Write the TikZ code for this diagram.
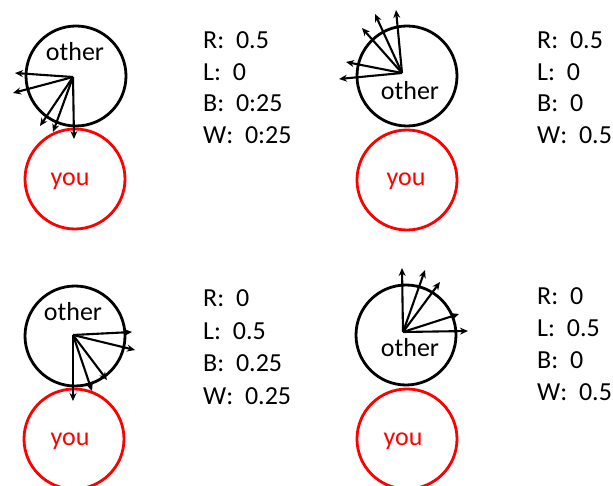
\documentclass[tikz,border=0pt]{standalone}
\usepackage{fontspec}
\setmainfont{Carlito}
\usepackage{tikz}
\usetikzlibrary{arrows.meta}
\definecolor{youred}{HTML}{FF0000}
\tikzset{
  ring/.style={circle, draw, line width=2.8pt, minimum size=100pt, inner sep=0pt},
  dirarrow/.style={-{Stealth[length=8pt,width=7pt]}, line width=2.1pt},
  lbl/.style={font=\fontsize{26}{31}\selectfont, inner sep=0pt},
  prob/.style={anchor=west, font=\fontsize{26}{31}\selectfont, inner sep=0pt},
}

\begin{document}
\begin{tikzpicture}[x=1pt,y=-1pt]
    \useasboundingbox (0,0) rectangle (613,486);

    % Top left: other looks away to the left and down
    \node[ring] (other1) at (76,76) {};
    \node[ring, youred] (you1) at (75,179) {};
    \node[lbl] (othertxt1) at (75,52) {other};
    \node[lbl, youred] (youtxt1) at (70,181) {you};
    \coordinate (o1) at (73,77);
    \foreach \x/\y [count=\i] in {15/73, 13/93, 40/126, 53/132, 74/139} {
        \coordinate (a1-\i) at (\x,\y);
        \draw[dirarrow] (o1) -- (a1-\i);
    }
    \foreach \t [count=\i] in {R:~~0.5, L:~~0, B:~~0:25, W:~~0:25}
        \node[prob] (p1-\i) at (203,{40+31.7*(\i-1)}) {\t};

    % Top right: other looks away to the left and up
    \node[ring] (other2) at (407,76) {};
    \node[ring, youred] (you2) at (407,180) {};
    \node[lbl] (othertxt2) at (410,91) {other};
    \node[lbl, youred] (youtxt2) at (406,181) {you};
    \coordinate (o2) at (402,73);
    \foreach \x/\y [count=\i] in {339/79, 346/62, 362/28, 375/14, 396/10} {
        \coordinate (a2-\i) at (\x,\y);
        \draw[dirarrow] (o2) -- (a2-\i);
    }
    \foreach \t [count=\i] in {R:~~0.5, L:~~0, B:~~0, W:~~0.5}
        \node[prob] (p2-\i) at (537,{40+31.7*(\i-1)}) {\t};

    % Bottom left: other looks to the right and down
    \node[ring] (other3) at (75,336) {};
    \node[ring, youred] (you3) at (74,439) {};
    \node[lbl] (othertxt3) at (73,312) {other};
    \node[lbl, youred] (youtxt3) at (70,441) {you};
    \coordinate (o3) at (73,335);
    \foreach \x/\y [count=\i] in {132/332, 135/350, 107/380, 92/391, 73/401} {
        \coordinate (a3-\i) at (\x,\y);
        \draw[dirarrow] (o3) -- (a3-\i);
    }
    \foreach \t [count=\i] in {R:~~0, L:~~0.5, B:~~0.25, W:~~0.25}
        \node[prob] (p3-\i) at (203,{298+32.7*(\i-1)}) {\t};

    % Bottom right: other looks to the right and up
    \node[ring] (other4) at (406,335) {};
    \node[ring, youred] (you4) at (407,439) {};
    \node[lbl] (othertxt4) at (410,348) {other};
    \node[lbl, youred] (youtxt4) at (403,441) {you};
    \coordinate (o4) at (403,332);
    \foreach \x/\y [count=\i] in {402/268, 425/270, 440/282, 459/314, 468/331} {
        \coordinate (a4-\i) at (\x,\y);
        \draw[dirarrow] (o4) -- (a4-\i);
    }
    \foreach \t [count=\i] in {R:~~0, L:~~0.5, B:~~0, W:~~0.5}
        \node[prob] (p4-\i) at (537,{296+32*(\i-1)}) {\t};

\end{tikzpicture}
\end{document}
